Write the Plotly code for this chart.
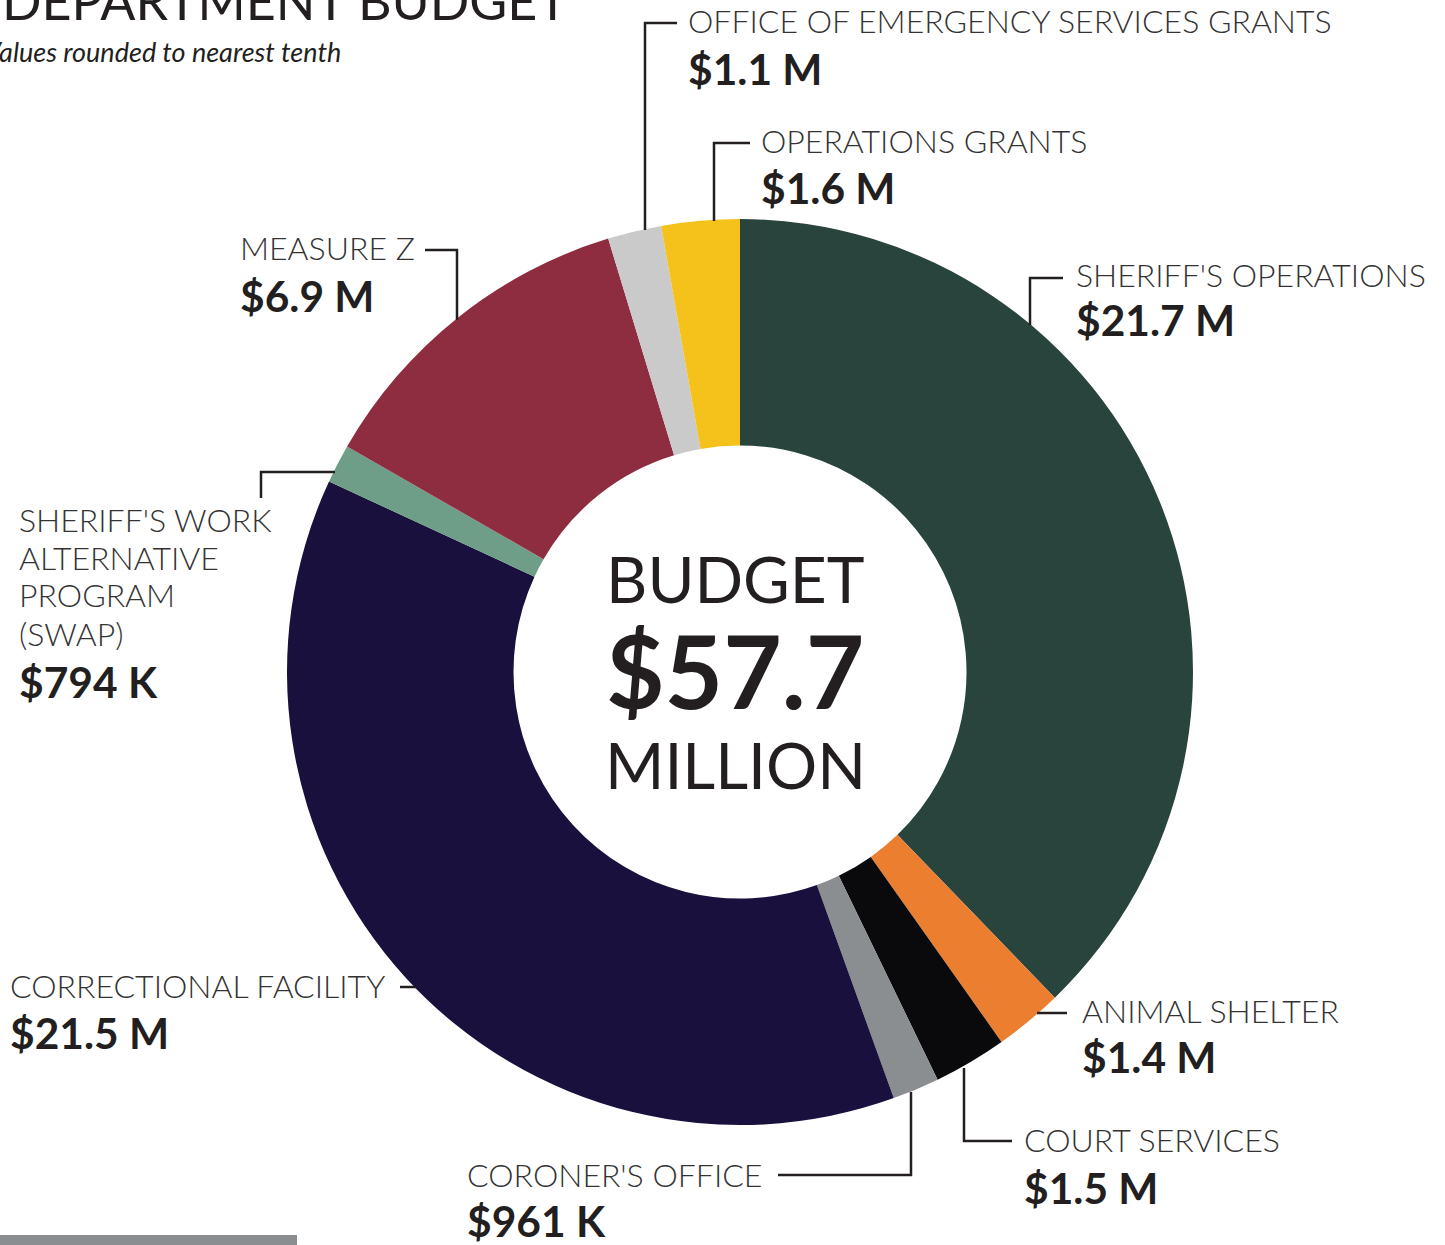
import plotly.graph_objects as go

# ---- data ----
categories = ["SHERIFF'S OPERATIONS", "ANIMAL SHELTER", "COURT SERVICES", "CORONER'S OFFICE",
              "CORRECTIONAL FACILITY", "SHERIFF'S WORK<br>ALTERNATIVE<br>PROGRAM<br>(SWAP)",
              "MEASURE Z", "OFFICE OF EMERGENCY SERVICES GRANTS", "OPERATIONS GRANTS"]
values_millions = [21.7, 1.4, 1.5, 0.961, 21.5, 0.794, 6.9, 1.1, 1.6]
value_labels = ["$21.7 M", "$1.4 M", "$1.5 M", "$961 K", "$21.5 M", "$794 K", "$6.9 M", "$1.1 M", "$1.6 M"]
colors = ["#29443C", "#EC7F2F", "#0A0A0C", "#8A8E91", "#19103D", "#6E9E87", "#8F2D40", "#CBCACA", "#F5C21B"]
total_label = "$57.7"

W, H = 1445, 1245
FONT = "Lato"
DARK = "#231F20"

def px(x):
    return x / W

def py(y):
    return 1 - y / H

cx, cy, R = 740, 672, 453

fig = go.Figure(go.Pie(
    labels=[c.replace("<br>", " ") for c in categories],
    values=values_millions,
    marker=dict(colors=colors, line=dict(width=0)),
    hole=0.5, sort=False, direction="clockwise", rotation=0,
    textinfo="none", hoverinfo="label+value", showlegend=False,
    domain=dict(x=[px(cx - R), px(cx + R)], y=[py(cy + R), py(cy - R)]),
))

ann = []
DX = {"left": -3, "center": 0, "right": 2}

def text(x, y, s, size, weight=400, xanchor="left", italic=False, color=DARK):
    ann.append(dict(x=px(x + DX[xanchor]), y=py(y - 2), xref="paper", yref="paper", text=s,
                    showarrow=False, xanchor=xanchor, yanchor="middle", align="left",
                    font=dict(family=FONT, size=size, color=color, weight=weight,
                              style="italic" if italic else "normal")))

LBL, VAL, LINE = 32, 42.5, 38
# label positions: (x, first label line center y, value center y)
label_pos = [(1077, 276, 322), (1083, 1012, 1058), (1025, 1141, 1189), (468, 1176, 1222),
             (11, 987, 1034), (20, 521, 683), (241, 250, 297), (689, 23, 70), (762, 143, 189)]
for cat, v, (x, ly, vy) in zip(categories, value_labels, label_pos):
    for i, line in enumerate(cat.split("<br>")):
        text(x, ly + i * LINE, line, LBL, weight=300, color="#333333")
    text(x, vy, v, VAL, weight=700)

# center text
text(735, 580, "BUDGET", 64, xanchor="center")
text(735, 672, total_label, 101, weight=700, xanchor="center")
text(735, 766, "MILLION", 64, xanchor="center")

# title (cropped at top)
text(568, 2, "DEPARTMENT BUDGET", 52, xanchor="right")
text(341, 53, "Values rounded to nearest tenth", 27, xanchor="right", italic=True)

# leader lines (pixel paths)
leaders = [
    [(1063, 278), (1030, 278), (1030, 325)],
    [(1067, 1013), (1037, 1013)],
    [(1012, 1141), (964, 1141), (964, 1068)],
    [(778, 1175), (911, 1175), (911, 1092)],
    [(400, 987), (416, 987)],
    [(261, 498), (261, 472), (335, 472)],
    [(425, 250), (457, 250), (457, 320)],
    [(677, 23), (645, 23), (645, 230)],
    [(750, 143), (714, 143), (714, 221)],
]
shapes = []
for pts in leaders:
    path = "M " + " L ".join(f"{px(x)},{py(y)}" for x, y in pts)
    shapes.append(dict(type="path", path=path, xref="paper", yref="paper",
                       line=dict(color="#231F20", width=2.5)))
shapes.append(dict(type="rect", xref="paper", yref="paper", x0=0, x1=px(297), y0=0, y1=py(1235),
                   fillcolor="#8A8E91", line=dict(width=0)))

fig.update_layout(width=W, height=H, margin=dict(l=0, r=0, t=0, b=0),
                  paper_bgcolor="white", plot_bgcolor="white",
                  annotations=ann, shapes=shapes)
fig.write_html("out.html", config={"displayModeBar": False},
               post_script="document.body.style.margin='0';document.body.style.overflow='hidden';")
